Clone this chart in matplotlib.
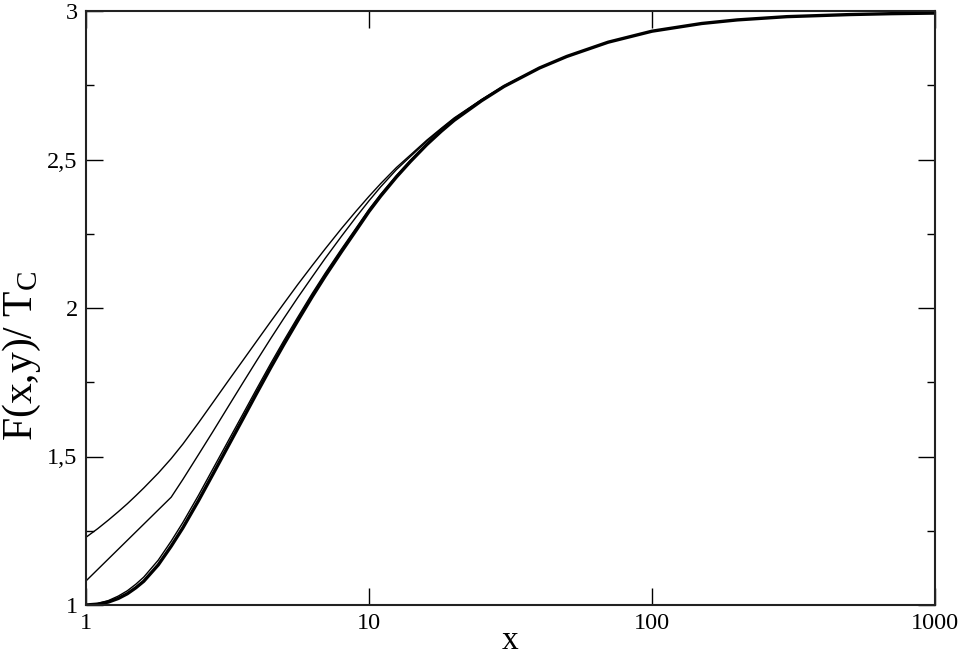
import matplotlib
matplotlib.use("Agg")
import matplotlib.pyplot as plt
from matplotlib.ticker import FixedLocator, NullLocator

plt.rcParams['font.family'] = ['Liberation Serif', 'DejaVu Serif']
plt.rcParams['mathtext.fontset'] = 'custom'
plt.rcParams['mathtext.rm'] = 'Liberation Serif'
plt.rcParams['mathtext.it'] = 'Liberation Serif:italic'

# data
x = [1, 1.1, 1.2, 1.3, 1.4, 1.5, 1.6, 1.8, 2, 2.2, 2.5, 2.8, 3.2, 3.6, 4, 4.5, 5, 5.6, 6.3, 7,
     8, 9, 10, 11, 12.5, 14, 16, 18, 20, 25, 30, 40, 50, 70, 100, 150, 200, 300, 500, 700, 1000]
curve_thick = [1.000, 1.003, 1.010, 1.022, 1.038, 1.058, 1.080, 1.135, 1.198, 1.260, 1.352,
               1.438, 1.540, 1.630, 1.711, 1.800, 1.877, 1.957, 2.038, 2.107, 2.190, 2.261,
               2.325, 2.377, 2.441, 2.493, 2.550, 2.595, 2.632, 2.698, 2.746, 2.808, 2.847,
               2.895, 2.932, 2.958, 2.970, 2.981, 2.988, 2.991, 2.993]
curve_d = [1.000, 1.005, 1.015, 1.030, 1.048, 1.070, 1.094, 1.151, 1.215, 1.278, 1.370,
           1.456, 1.557, 1.646, 1.726, 1.814, 1.890, 1.969, 2.049, 2.117, 2.199, 2.269,
           2.332, 2.383, 2.446, 2.497, 2.553, 2.597, 2.634, 2.699, 2.746, 2.808, 2.847,
           2.895, 2.932, 2.958, 2.970, 2.981, 2.988, 2.991, 2.993]
curve_b_x = [1, 2, 2.2, 2.5, 2.8, 3.2, 3.6, 4, 4.5, 5, 5.6, 6.3, 7, 8, 9, 10, 11, 12.5, 14,
             16, 18, 20, 25, 30, 40, 50, 70, 100, 150, 200, 300, 500, 700, 1000]
curve_b = [1.081, 1.363, 1.423, 1.507, 1.582, 1.672, 1.751, 1.821, 1.898, 1.965, 2.035,
           2.105, 2.167, 2.242, 2.306, 2.361, 2.408, 2.466, 2.510, 2.561, 2.603, 2.638,
           2.701, 2.747, 2.808, 2.847, 2.895, 2.932, 2.958, 2.970, 2.981, 2.988, 2.991, 2.993]
curve_a = [1.228, 1.257, 1.286, 1.314, 1.341, 1.368, 1.394, 1.444, 1.493, 1.542, 1.614,
           1.680, 1.758, 1.826, 1.887, 1.955, 2.015, 2.079, 2.143, 2.199, 2.268, 2.326,
           2.376, 2.419, 2.473, 2.515, 2.565, 2.605, 2.640, 2.702, 2.748, 2.809, 2.847,
           2.895, 2.932, 2.958, 2.970, 2.981, 2.988, 2.991, 2.993]

yticks = [1, 1.5, 2, 2.5, 3]
ytick_labels = ["1", "1,5", "2", "2,5", "3"]
yminor = [1.25, 1.75, 2.25, 2.75]
xticks = [1, 10, 100, 1000]
xtick_labels = ["1", "10", "100", "1000"]

fig = plt.figure(figsize=(9.61, 6.57), dpi=100)
ax = fig.add_axes([86/961, 52/657, 849/961, 594/657])

ax.plot(x, curve_a, color='black', lw=1.0)
ax.plot(curve_b_x, curve_b, color='black', lw=1.0)
ax.plot(x, curve_d, color='black', lw=1.0)
ax.plot(x, curve_thick, color='black', lw=2.4)

ax.set_xscale('log')
ax.set_xlim(1, 1000)
ax.set_ylim(1, 3)

ax.xaxis.set_major_locator(FixedLocator(xticks))
ax.set_xticklabels(xtick_labels)
ax.xaxis.set_minor_locator(NullLocator())
ax.yaxis.set_major_locator(FixedLocator(yticks))
ax.set_yticklabels(ytick_labels)
ax.yaxis.set_minor_locator(FixedLocator(yminor))

ax.tick_params(which='both', direction='in', top=True, right=True, labelsize=17.5, width=1.0)
ax.tick_params(which='major', length=12)
ax.tick_params(which='minor', length=6)
ax.tick_params(axis='x', pad=6)
ax.tick_params(axis='y', pad=6)
for s in ax.spines.values():
    s.set_linewidth(1.5)
    s.set_color('#222222')

ax.set_xlabel('x', fontsize=24)
ax.xaxis.set_label_coords(0.5, -(649 - 605) / 594)
ax.xaxis.label.set_va('baseline')
ax.set_ylabel(r'F(x,y)/ T$_\mathrm{C}$', fontsize=30)
ax.yaxis.set_label_coords(-0.0754, 0.42)
ax.yaxis.label.set_va('center')
ax.yaxis.label.set_ha('center')

fig.savefig('out.png', dpi=100)
